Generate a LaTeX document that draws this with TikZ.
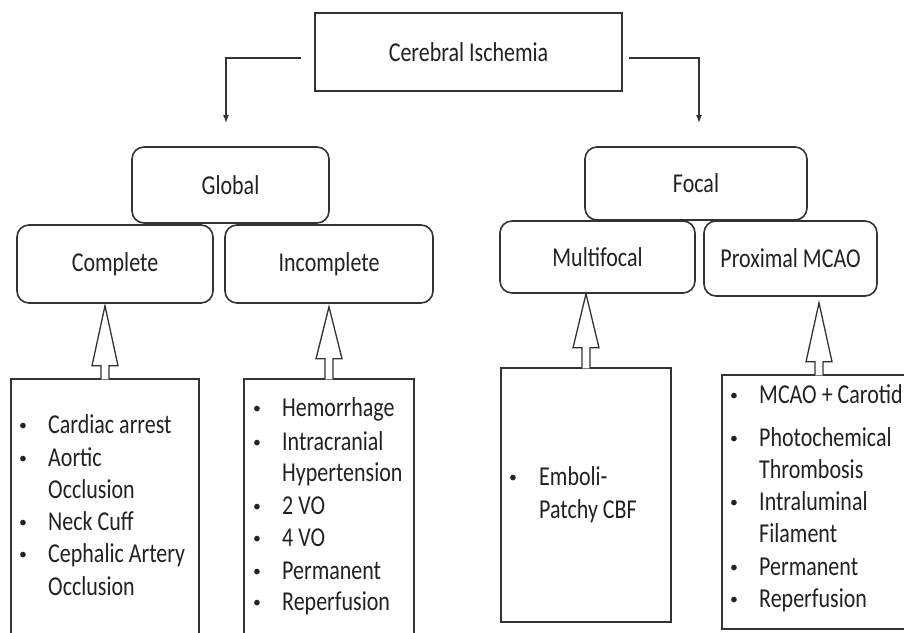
\documentclass[tikz,border=0pt]{standalone}
\usepackage{fontspec}
\setmainfont{Carlito}
\usepackage{graphicx}
\usetikzlibrary{calc,arrows.meta}
\definecolor{ln}{HTML}{333333}
\definecolor{tx}{HTML}{222222}
\newcommand{\vst}[1]{\scalebox{1}[1.24]{#1}}
\newcommand{\li}[4]{\node[itm] (#1) at (#2,#3) {\vst{#4}};}
\newcommand{\lb}[3]{\node[bul] (#1) at (#2,#3) {\raisebox{3pt}{\scalebox{0.72}{\textbullet}}};}
\newcommand{\hollow}[4]{%
  \draw[harrow] let \p1=(#1.north), \p2=(#2.south) in
    (\x1-4pt,\y1-1pt) -- (\x1-4pt,\y2-#3pt-#4pt) -- (\x1-13pt,\y2-#3pt-#4pt)
    -- (\x1,\y2-#3pt) -- (\x1+13pt,\y2-#3pt-#4pt) -- (\x1+4pt,\y2-#3pt-#4pt)
    -- (\x1+4pt,\y1-1pt);}
\tikzset{
  lbl/.style={font=\fontsize{22}{26}\selectfont, text=tx},
  sqbox/.style={draw=ln, line width=1.6pt, lbl, inner sep=0pt},
  rbox/.style={sqbox, rounded corners=12pt},
  lbox/.style={draw=ln, line width=1.3pt, inner sep=0pt},
  harrow/.style={draw=ln, line width=1.3pt, fill=white, line join=miter},
  conn/.style={draw=ln, line width=1.3pt, -{Latex[length=8pt,width=6pt]}},
  itm/.style={lbl, anchor=base west, inner sep=0pt},
  bul/.style={lbl, anchor=base, inner sep=0pt},
}
\begin{document}
\begin{tikzpicture}[x=1pt, y=-1pt]
\clip (0,0) rectangle (904,632);
\fill[white] (0,0) rectangle (904,632);

% top
\node[sqbox, minimum width=307pt, minimum height=78pt] (ci) at (468.5,52) {\vst{Cerebral Ischemia}};
\coordinate (la) at (226,123);
\coordinate (ra) at (699,123);
\draw[conn] ($(ci.west)+(-13,6)$) -| (la);
\draw[conn] ($(ci.east)+(6,6)$) -| (ra);

% category boxes
\node[rbox, minimum width=197pt, minimum height=76pt] (glob) at (230.5,185) {\vst{Global}};
\node[rbox, minimum width=196pt, minimum height=78pt] (cmp) at (115,264) {\vst{Complete}};
\node[rbox, minimum width=208pt, minimum height=78pt] (inc) at (329,264) {\vst{Incomplete}};
\node[rbox, minimum width=222pt, minimum height=73pt] (foc) at (696,183.5) {\vst{Focal}};
\node[rbox, minimum width=195pt, minimum height=72pt] (mul) at (597.5,257) {\vst{Multifocal}};
\node[rbox, minimum width=173pt, minimum height=75pt] (pro) at (790.5,258.5) {\vst{Proximal MCAO}};

% list boxes
\node[lbox, minimum width=188pt, minimum height=261pt] (lcmp) at (105,509.5) {};
\node[lbox, minimum width=170pt, minimum height=261pt] (linc) at (329,509.5) {};
\node[lbox, minimum width=170pt, minimum height=254pt] (lmul) at (586,495) {};
\node[lbox, minimum width=194pt, minimum height=254pt] (lpro) at (819,502) {};

% hollow arrows
\hollow{lcmp}{cmp}{2}{60}
\hollow{linc}{inc}{3}{52}
\hollow{lmul}{mul}{0}{54}
\hollow{lpro}{pro}{6}{59}

% Complete list
\lb{b1}{23}{433.3} \li{t1}{48}{433.3}{Cardiac arrest}
\lb{b2}{23}{466} \li{t2}{48}{466}{Aortic}
\li{t3}{48}{498.3}{Occlusion}
\lb{b4}{23}{530} \li{t4}{48}{530}{Neck Cuff}
\lb{b5}{23}{562.7} \li{t5}{48}{562.7}{Cephalic Artery}
\li{t6}{48}{595}{Occlusion}

% Incomplete list
\lb{c1}{257}{416.7} \li{u1}{282}{416.7}{Hemorrhage}
\lb{c2}{257}{450} \li{u2}{282}{450}{Intracranial}
\li{u3}{282}{481.7}{Hypertension}
\lb{c4}{257}{514} \li{u4}{282}{514}{2 VO}
\lb{c5}{257}{546.7} \li{u5}{282}{546.7}{4 VO}
\lb{c6}{257}{579.3} \li{u6}{282}{579.3}{Permanent}
\lb{c7}{257}{610.7} \li{u7}{282}{610.7}{Reperfusion}

% Multifocal list
\lb{d1}{513}{485} \li{v1}{539}{485}{Emboli-}
\li{v2}{539}{518}{Patchy CBF}

% Proximal list
\lb{e1}{734}{403} \li{w1}{759}{403}{MCAO + Carotid}
\lb{e2}{734}{446} \li{w2}{759}{446}{Photochemical}
\li{w3}{759}{478}{Thrombosis}
\lb{e4}{734}{510} \li{w4}{759}{510}{Intraluminal}
\li{w5}{759}{542}{Filament}
\lb{e6}{734}{575} \li{w6}{759}{575}{Permanent}
\lb{e7}{734}{607} \li{w7}{759}{607}{Reperfusion}
\end{tikzpicture}
\end{document}
